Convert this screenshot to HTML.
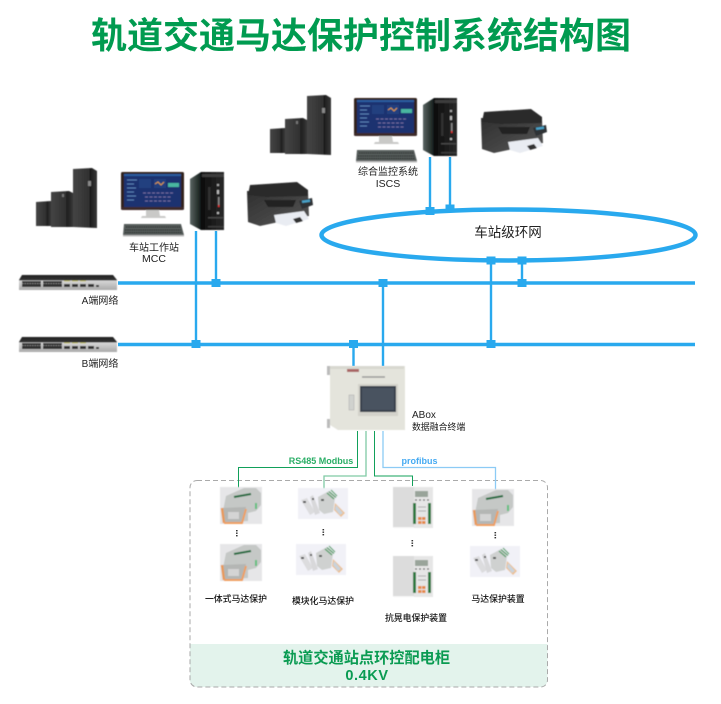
<!DOCTYPE html>
<html lang="zh"><head><meta charset="utf-8"><title>轨道交通马达保护控制系统结构图</title>
<style>
html,body{margin:0;padding:0;background:#fff;width:721px;height:704px;overflow:hidden}
svg{display:block}
text{font-family:"Liberation Sans","Noto Sans CJK SC",sans-serif;fill:#222}
</style></head><body>
<svg width="721" height="704" viewBox="0 0 721 704" xmlns="http://www.w3.org/2000/svg">
<defs>
<filter id="b" x="-5%" y="-5%" width="110%" height="110%"><feGaussianBlur stdDeviation="0.4"/></filter>
<linearGradient id="cab" x1="0" x2="1" y1="0" y2="0"><stop offset="0" stop-color="#454545"/><stop offset=".68" stop-color="#303030"/><stop offset=".7" stop-color="#1c1c1c"/><stop offset="1" stop-color="#383838"/></linearGradient>
<linearGradient id="tow" x1="0" x2="1" y1="0" y2="0"><stop offset="0" stop-color="#5b6663"/><stop offset=".3" stop-color="#18201f"/><stop offset=".32" stop-color="#0c0c0c"/><stop offset="1" stop-color="#2a2a2a"/></linearGradient>
<linearGradient id="prn" x1="0" x2="1" y1="0" y2="1"><stop offset="0" stop-color="#2f2f2f"/><stop offset="1" stop-color="#565656"/></linearGradient>
<linearGradient id="swt" x1="0" x2="0" y1="0" y2="1"><stop offset="0" stop-color="#222"/><stop offset=".35" stop-color="#333"/><stop offset=".36" stop-color="#d8d8d8"/><stop offset="1" stop-color="#aaa"/></linearGradient>

<g id="ups" filter="url(#b)">
<path d="M0 1L15 0V25L0 25Z" fill="url(#cab)"/>
<path d="M15 -9L33 -10L37 -8V26H15Z" fill="url(#cab)"/>
<path d="M37 -32L56 -33L61 -30V27L37 26Z" fill="url(#cab)"/>
<rect x="52" y="-20" width="3" height="5" fill="#888"/>
<rect x="26" y="-7" width="2" height="3" fill="#777"/>
</g>

<g id="pc" filter="url(#b)">
<rect x="0" y="0" width="63" height="38" rx="1.5" fill="#33211f"/>
<rect x="3" y="2" width="57" height="33" fill="#1c3070"/>
<rect x="3" y="2" width="57" height="2" fill="#2a5da0"/>
<path d="M6 8h10M6 12h7M6 16h9M6 20h7M6 24h9M6 28h7" stroke="#5a83b8" stroke-width="1"/>
<path d="M18 7h12v9H18z" fill="#24407f"/>
<path d="M33 7h12v9H33z" fill="#24407f"/><path d="M34 12l3-2 3 3 3-3" stroke="#e8a03a" fill="none" stroke-width=".9"/>
<rect x="47" y="11" width="11" height="4" fill="#4ab6a0"/>
<path d="M22 21h30M24 25h26M24 29h26" stroke="#6d6a9c" stroke-width="1.2" stroke-dasharray="3 1.5"/>
<rect x="0" y="35" width="63" height="2.5" fill="#3d2c2a"/>
<path d="M25 38h13l1 6h5l1 2H20l1-2h4z" fill="#c9c9c7"/>
<path d="M3 52H60L63 63H2Z" fill="#555b5a"/>
<path d="M5 55H60M4 58H60M4 60.5H61" stroke="#252928" stroke-width="1" stroke-dasharray="1.5 .7"/>
<rect x="2" y="63" width="61" height="1.5" fill="#bbb"/>
</g>

<g id="tower" filter="url(#b)">
<path d="M0 7L11 0H34V58H11L0 52Z" fill="url(#tow)"/>
<rect x="12" y="2" width="22" height="3" fill="#3c3c3c"/>
<rect x="18" y="15" width="2.5" height="23" fill="#333"/>
<rect x="27" y="12" width="2" height="2" fill="#aaa"/><rect x="27" y="18" width="2" height="4" fill="#bbb"/>
<rect x="28" y="25" width="1.5" height="8" fill="#888"/><rect x="28" y="33" width="1.5" height="2" fill="#d33"/>
<rect x="27" y="40" width="2" height="2" fill="#bbb"/>
<rect x="18" y="45" width="15" height="1.5" fill="#444"/><rect x="18" y="54" width="16" height="1.5" fill="#3a3a3a"/>
</g>

<g id="printer" filter="url(#b)">
<path d="M1 9L62 10L63 34L42 38L14 44L2 40Z" fill="url(#prn)"/>
<path d="M4 3L51 0L62 8L62 14L20 15L2 13Z" fill="#2b2b2b"/>
<path d="M18 18H50L47 25H22Z" fill="#232323"/>
<path d="M53 19L66 16L67 23L56 27Z" fill="#2f3335"/><rect x="56" y="18" width="8" height="2.5" fill="#4aa3c9" transform="rotate(-8 60 19)"/>
<path d="M28 33L58 29L63 37L40 44L30 41Z" fill="#e9ecf2"/>
<path d="M47 37L54 35L57 39L50 41Z" fill="#333"/>
</g>

<g id="sw" filter="url(#b)">
<path d="M3 0H94L98 5V15H0V5Z" fill="url(#swt)"/>
<rect x="3" y="6" width="19" height="6" fill="#333"/><rect x="24" y="6" width="19" height="6" fill="#333"/>
<path d="M3 8.500H22M24 8.500H43" stroke="#999" stroke-width=".7" stroke-dasharray="1.500 1"/>
<rect x="45" y="9" width="6" height="3" fill="#333"/><rect x="53" y="9" width="6" height="3" fill="#333"/><rect x="61" y="9" width="6" height="3" fill="#333"/><rect x="69" y="9" width="6" height="3" fill="#333"/><rect x="77" y="10" width="3" height="2" fill="#333"/>
<path d="M45 6h6M53 6h6M61 6h6" stroke="#c9c77a" stroke-width="1"/>
</g>

<g id="mp" filter="url(#b)">
<rect width="42" height="37" fill="#e6e6e8"/>
<path d="M6 9L24 1H36L41 6V18L36 24L28 26V34L12 35L3 24Z" fill="#c5c8c6"/>
<path d="M14 10L31 7" stroke="#1f6b3c" stroke-width="2"/>
<path d="M2 21L26 20L23 35H5Z" fill="#b4b6b4"/>
<path d="M2 21L4 36" stroke="#e89a5a" stroke-width="2.500"/>
<path d="M4 36H22L26 22" stroke="#ee9f62" stroke-width="2" fill="none"/>
<rect x="8" y="25" width="11" height="7" fill="#d4d4d4"/>
<rect x="35" y="16" width="2" height="6" fill="#5ec07e"/>
</g>

<g id="mod" filter="url(#b)">
<rect width="50" height="31" fill="#f1f1f7"/>
<path d="M3 12L9 10L17 24L12 27Z" fill="#dcdcde"/><rect x="5" y="13" width="3" height="2" fill="#555"/>
<path d="M12 9L15 7L22 25L17 27Z" fill="#d8d8da"/><rect x="14" y="10" width="2" height="2" fill="#555"/>
<path d="M20 9L31 3L37 10L35 24L26 26L21 22Z" fill="#cfd1d0"/>
<path d="M29 5L36 11M31 3.500L38 9.500M33 2L39 8" stroke="#4f9e66" stroke-width="1.200"/>
<rect x="23" y="11" width="3" height="2" fill="#555"/>
<path d="M37 15L47 25L43 29L36 22Z" fill="#ecc093"/><path d="M38 17L45 25L42 27L37 21Z" fill="#c9d3dc"/>
</g>

<g id="relay" filter="url(#b)">
<rect x="0" y="1" width="40" height="41" fill="#f4f4f4"/>
<rect x="0" y="1" width="21" height="40" fill="#dcdcdc"/>
<rect x="21" y="1" width="19" height="41" fill="#e6e6e6"/>
<rect x="22" y="5" width="13" height="6" fill="#99a49a"/>
<path d="M22 14h2M26 14h2M30 14h2M34 14h2" stroke="#666" stroke-width="1.200"/>
<rect x="20" y="17" width="3" height="21" fill="#2e7a3f"/>
<rect x="35" y="17" width="3" height="21" fill="#2e7a3f"/>
<path d="M25 21h8M25 25h8" stroke="#aaa" stroke-width="1"/>
<rect x="25" y="31" width="3.500" height="3" fill="#e58a44"/><rect x="29" y="31" width="3.500" height="3" fill="#e58a44"/>
<rect x="25" y="35" width="3.500" height="3" fill="#e58a44"/><rect x="29" y="35" width="3.500" height="3" fill="#e58a44"/>
</g>

<g id="nd"><rect x="-4.500" y="-4" width="9" height="8" fill="#29a9ee"/></g>
<g id="dots"><rect x="-1" y="-3" width="1.600" height="1.400" fill="#333"/><rect x="-1" y="-.5" width="1.600" height="1.400" fill="#333"/><rect x="-1" y="2" width="1.600" height="1.400" fill="#333"/></g>
</defs>

<text x="361" y="48" text-anchor="middle" font-size="36" font-weight="700" style="fill:#009b50">轨道交通马达保护控制系统结构图</text>

<!-- network -->
<g stroke="#29a9ee" fill="none">
<ellipse cx="508.500" cy="235" rx="187" ry="25.500" stroke-width="4.500"/>
<path d="M118 283H695M118 344.500H695" stroke-width="3.600"/>
<path d="M196 231V344M216 231V283M430 157V211M450 157V209M383 283V366M353.500 344V366M491 260V344M522 260V283" stroke-width="2.400"/>
</g>
<use href="#nd" x="216" y="283"/><use href="#nd" x="196" y="344"/><use href="#nd" x="353.500" y="344"/>
<use href="#nd" x="383" y="283"/><use href="#nd" x="491" y="344"/><use href="#nd" x="522" y="283"/>
<use href="#nd" x="491" y="260.500"/><use href="#nd" x="522" y="260.500"/>
<use href="#nd" x="430" y="211"/><use href="#nd" x="450" y="208.500"/>
<text x="508" y="237" text-anchor="middle" font-size="13.500">车站级环网</text>

<!-- left group -->
<use href="#ups" x="36" y="201"/>
<use href="#pc" x="121" y="172"/>
<use href="#tower" x="190" y="172"/>
<use href="#printer" x="246" y="182"/>
<text x="154" y="251" text-anchor="middle" font-size="10">车站工作站</text>
<text x="154" y="262" text-anchor="middle" font-size="10.500">MCC</text>

<!-- top group -->
<use href="#ups" x="270" y="128"/>
<use href="#pc" x="354" y="98"/>
<use href="#tower" x="423" y="98"/>
<use href="#printer" x="480" y="109"/>
<text x="388" y="175" text-anchor="middle" font-size="10">综合监控系统</text>
<text x="388" y="187" text-anchor="middle" font-size="10.500">ISCS</text>

<!-- switches -->
<use href="#sw" x="19" y="275"/>
<use href="#sw" x="19" y="337"/>
<text x="100" y="304" text-anchor="middle" font-size="10">A端网络</text>
<text x="100" y="367" text-anchor="middle" font-size="10">B端网络</text>

<!-- dashed box -->
<path d="M190 644H547.500V680a7 7 0 0 1-7 7H197a7 7 0 0 1-7-7Z" fill="#e3f3ec"/>
<rect x="190" y="480.500" width="357.500" height="206.500" rx="7" fill="none" stroke="#aaa" stroke-width="1" stroke-dasharray="5 3"/>

<!-- ABox -->
<g filter="url(#b)">
<rect x="327" y="366" width="3" height="9" fill="#bbb"/><rect x="327" y="419" width="3" height="9" fill="#bbb"/>
<path d="M330 366H405V430H338L330 425Z" fill="#e4e4dc"/>
<path d="M330 366H404V369H330Z" fill="#d8d8d0"/>
<rect x="349" y="395" width="5" height="15" fill="#d0d2ce" stroke="#aaa" stroke-width=".5"/>
<rect x="358" y="384" width="40" height="32" fill="#d3d2cb"/>
<rect x="360" y="386" width="36" height="26" fill="#39404c"/>
<rect x="362" y="388" width="32" height="22" fill="#4a5361"/>
<rect x="347" y="369" width="12" height="3" fill="#a66"/>
<path d="M362 377H385" stroke="#999" stroke-width="1.500"/>
</g>
<text x="412" y="418" font-size="10">ABox</text>
<text x="412" y="430" font-size="8.900">数据融合终端</text>

<!-- buses -->
<g fill="none" stroke-width="1">
<path d="M357.500 431V467.500H238.500V488" stroke="#11a05a"/>
<path d="M366 431V476H324V490" stroke="#7fcaa5" stroke-width="1.300"/>
<path d="M374.500 431V476H412.500V486" stroke="#11a05a"/>
<path d="M383 431V467.500H495.500V490" stroke="#8ccbf5" stroke-width="1.300"/>
</g>
<text x="321" y="464" text-anchor="middle" font-size="9" font-weight="700" style="fill:#2aae66">RS485 Modbus</text>
<text x="419.500" y="464" text-anchor="middle" font-size="9" font-weight="700" style="fill:#45aaf2">profibus</text>

<!-- devices -->
<use href="#mp" x="220" y="487"/><use href="#mp" x="220" y="544"/>
<use href="#mod" x="298" y="488"/><use href="#mod" x="296" y="544"/>
<use href="#relay" x="393" y="486"/><use href="#relay" x="393" y="555"/>
<use href="#mp" x="472" y="489"/><use href="#mod" x="470" y="546"/>
<use href="#dots" x="237" y="533"/><use href="#dots" x="323.500" y="532"/><use href="#dots" x="412.500" y="543"/><use href="#dots" x="495.500" y="535"/>
<g font-size="8.900" font-weight="500">
<text x="236" y="602" text-anchor="middle" style="fill:#111">一体式马达保护</text>
<text x="323" y="604" text-anchor="middle" style="fill:#111">模块化马达保护</text>
<text x="416" y="621" text-anchor="middle" style="fill:#111">抗晃电保护装置</text>
<text x="498" y="602" text-anchor="middle" style="fill:#111">马达保护装置</text>
</g>

<text x="366.500" y="663" text-anchor="middle" font-size="15.200" font-weight="700" style="fill:#0a9b52">轨道交通站点环控配电柜</text>
<text x="367" y="680" text-anchor="middle" font-size="14.500" font-weight="700" letter-spacing=".6" style="fill:#0a9b52">0.4KV</text>
</svg>
</body></html>
